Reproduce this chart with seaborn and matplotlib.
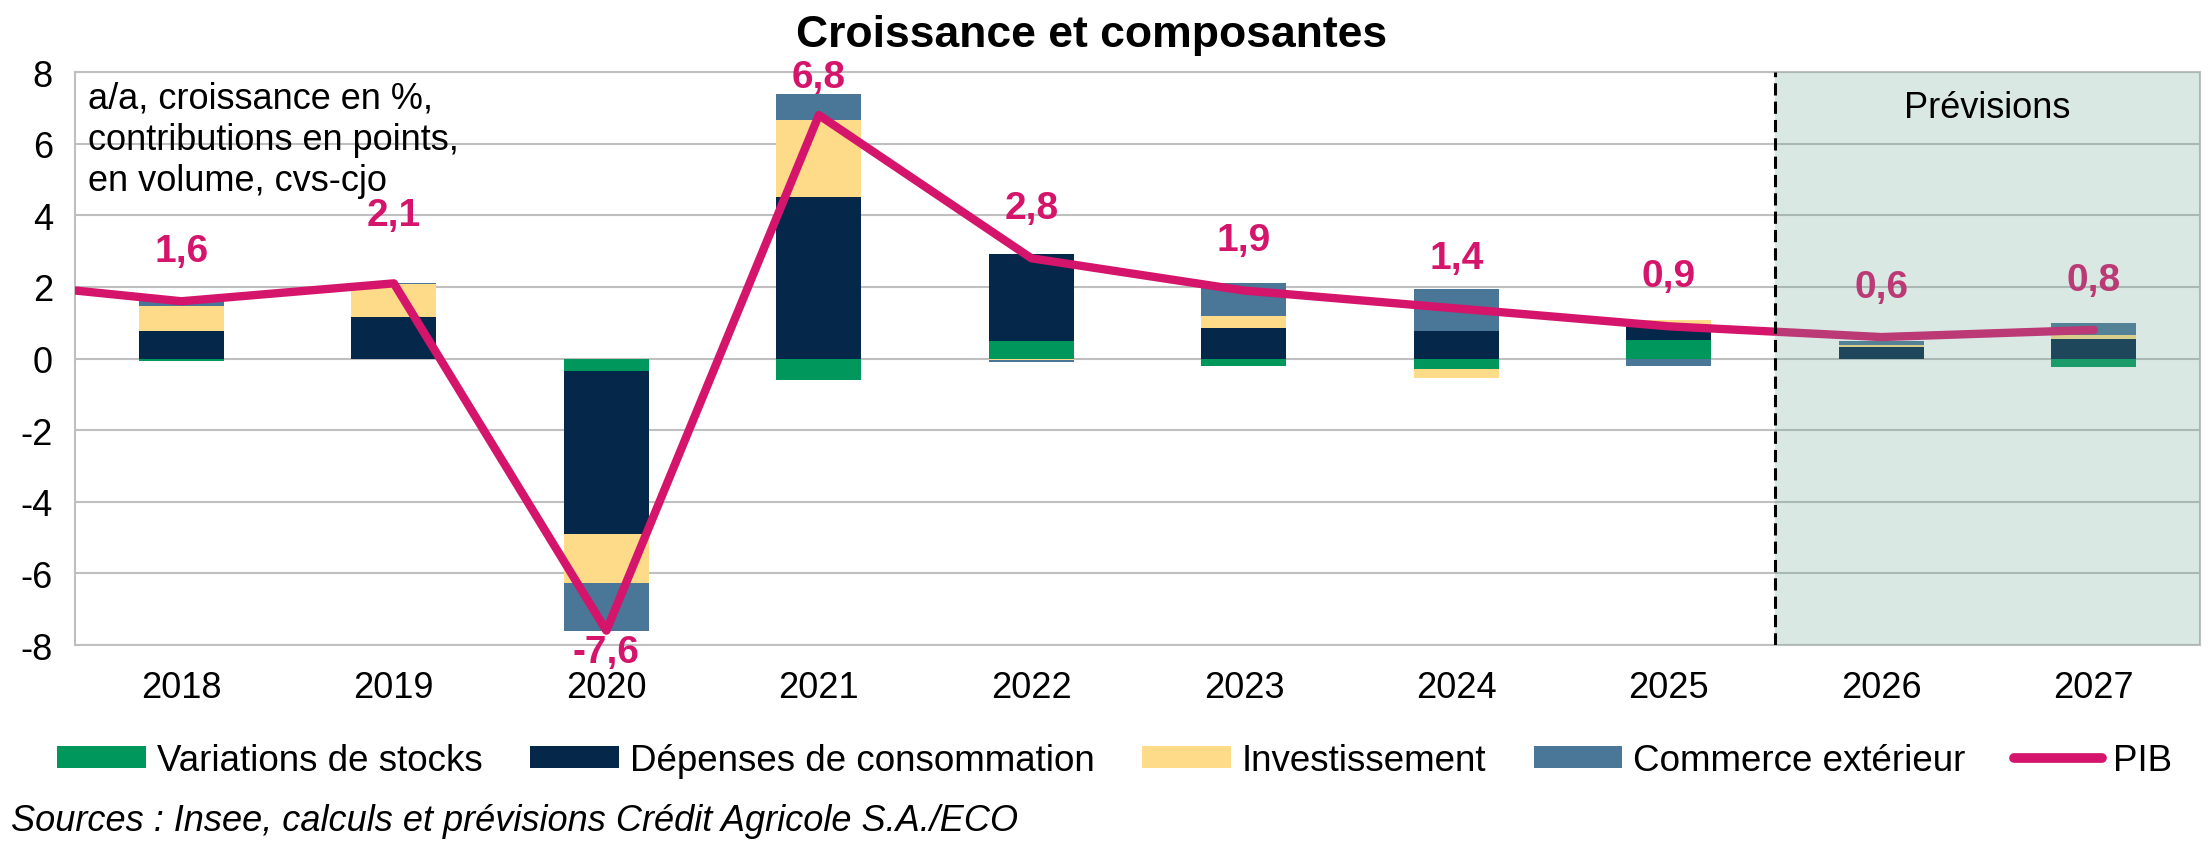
import numpy as np
import matplotlib
matplotlib.use("Agg")
import matplotlib.pyplot as plt
import seaborn as sns
from matplotlib.patches import Patch
from matplotlib.lines import Line2D

# Données
years = ["2018", "2019", "2020", "2021", "2022", "2023", "2024", "2025", "2026", "2027"]
stocks = [-0.07, 0.0, -0.34, -0.59, 0.49, -0.21, -0.28, 0.53, 0.0, -0.23]
consommation = [0.77, 1.17, -4.55, 4.50, 2.43, 0.84, 0.76, 0.40, 0.33, 0.54]
investissement = [0.70, 0.91, -1.37, 2.15, -0.05, 0.36, -0.25, 0.16, 0.04, 0.11]
commerce = [0.15, 0.04, -1.35, 0.73, -0.05, 0.90, 1.18, -0.20, 0.13, 0.34]
pib = [1.6, 2.1, -7.6, 6.8, 2.8, 1.9, 1.4, 0.9, 0.6, 0.8]
pib_2017 = 2.2  # point précédent, coupé par le bord gauche

series_names = ["Variations de stocks", "Dépenses de consommation",
                "Investissement", "Commerce extérieur"]
series_colors = ["#00975c", "#05284a", "#fedb88", "#4a7697"]
pib_color = "#d5156b"

# décalage vertical des étiquettes du PIB (en points de %)
label_dy = {"2019": 1.9, "2020": -0.6, "2021": 1.05}

sns.set_theme(style="white")
plt.rcParams["font.family"] = ["Liberation Sans", "DejaVu Sans"]
plt.rcParams["axes.unicode_minus"] = False
plt.rcParams["text.color"] = "black"

fig = plt.figure(figsize=(22.09, 8.45), dpi=100)
ax = fig.add_axes([0.034, 0.2355, 0.962, 0.678])

# empilement : positifs vers le haut, négatifs vers le bas (ordre des séries)
comp = np.array([stocks, consommation, investissement, commerce])
pos = np.where(comp > 0, comp, 0)
neg = np.where(comp < 0, comp, 0)
zeros = np.zeros((1, comp.shape[1]))
pos_bottom = np.vstack([zeros, np.cumsum(pos, axis=0)[:-1]])
neg_bottom = np.vstack([zeros, np.cumsum(neg, axis=0)[:-1]])
bottoms = np.where(comp >= 0, pos_bottom, neg_bottom)

for i in range(len(series_names)):
    sns.barplot(x=years, y=comp[i], bottom=bottoms[i], order=years,
                color=series_colors[i], saturation=1, width=0.4,
                errorbar=None, linewidth=0, ax=ax, zorder=2)

# courbe du PIB
x_line = np.arange(-1, len(years))
sns.lineplot(x=x_line, y=[pib_2017] + pib, color=pib_color, linewidth=6,
             solid_capstyle="round", ax=ax, zorder=3)

for i, (yr, v) in enumerate(zip(years, pib)):
    dy = label_dy.get(yr, 1.4)
    ax.text(i, v + dy, f"{v:.1f}".replace(".", ","), ha="center", va="center",
            fontsize=28, fontweight="bold", color=pib_color, zorder=4, clip_on=False)

# zone de prévisions
ax.axvspan(7.5, 9.5, color=(110 / 255, 165 / 255, 149 / 255), alpha=0.25, lw=0, zorder=5)
ax.axvline(7.5, color="black", linestyle=(0, (4, 2)), lw=2.2, zorder=6)
ax.text(8.5, 7.0, "Prévisions", ha="center", va="center", fontsize=26, zorder=7)

ax.text(0.006, 0.985, "a/a, croissance en %,\ncontributions en points,\nen volume, cvs-cjo",
        transform=ax.transAxes, ha="left", va="top", fontsize=26, linespacing=1.22, zorder=7)

ax.set_xlim(-0.5, 9.5)
ax.set_ylim(-8, 8)
ax.set_yticks(range(-8, 9, 2))
ax.set_xlabel("")
ax.set_ylabel("")
ax.yaxis.grid(True, color="#bfbfbf", lw=1.5)
ax.xaxis.grid(False)
ax.set_axisbelow(True)
for s in ax.spines.values():
    s.set_color("#bfbfbf")
    s.set_linewidth(1.5)
ax.tick_params(axis="both", length=0, labelsize=26, colors="black")
ax.tick_params(axis="y", pad=16)
ax.tick_params(axis="x", pad=18)

fig.text(0.494, 0.958, "Croissance et composantes", ha="center", va="center",
         fontsize=32, fontweight="bold", color="black")

handles = [Patch(facecolor=c, edgecolor="none") for c in series_colors]
handles.append(Line2D([0], [0], color=pib_color, lw=7, solid_capstyle="round"))
fig.legend(handles, series_names + ["PIB"], loc="center", bbox_to_anchor=(0.5046, 0.099),
           ncol=5, frameon=False, fontsize=26.5, handlelength=2.4, handleheight=0.55,
           handletextpad=0.3, columnspacing=1.3)

fig.text(0.005, 0.028, "Sources : Insee, calculs et prévisions Crédit Agricole S.A./ECO",
         ha="left", va="center", fontsize=26, style="italic")

fig.savefig("out.png", dpi=100)
